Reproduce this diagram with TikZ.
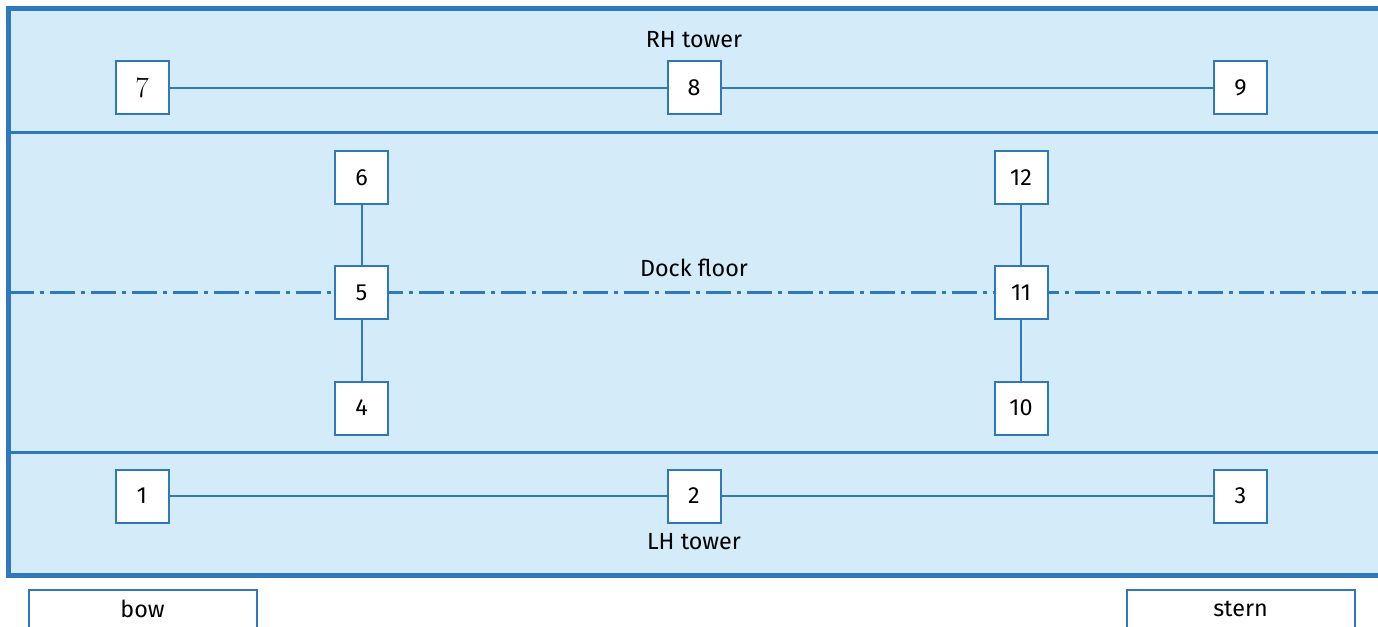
\documentclass[tikz,border=0pt]{standalone}
\usepackage{fontspec}
\setmainfont{Fira Sans}
\newfontfamily\serifdigits{Latin Modern Roman}
\definecolor{rimblue}{RGB}{47,120,190}
\definecolor{dockfill}{RGB}{212,235,250}
\begin{document}
\begin{tikzpicture}[x=0.75pt,y=-0.75pt,
  station/.style={draw=rimblue, line width=1.5pt, fill=white, minimum size=39.75pt,
    inner sep=0pt, font=\fontsize{17.5}{20}\selectfont},
  link/.style={draw=rimblue, line width=1.5pt},
  bandtext/.style={inner sep=0pt, font=\fontsize{17.5}{20}\selectfont},
  centreline/.style={draw=rimblue, line width=2.25pt,
    dash pattern=on 18.75pt off 4.5pt on 3pt off 4.5pt},
  divider/.style={draw=rimblue, line width=2.25pt},
  endbox/.style={draw=rimblue, line width=1.5pt, fill=white}]

  \useasboundingbox (0,0) rectangle (1378,627);
  \clip (0,0) rectangle (1378,627);

  % dock body with tower bands
  \filldraw[fill=dockfill, draw=rimblue, line width=3.75pt] (8.5,8.5) rectangle (1380,575.5);
  \draw[divider] (8.5,132.5) -- (1380,132.5);
  \draw[divider] (8.5,452.5) -- (1380,452.5);

  % dock centreline
  \coordinate (cl) at (8.5,293);
  \coordinate (cr) at (1380,293);
  \draw[centreline] (cl) -- (cr);

  % band captions
  \node[bandtext] (rh) at (694,40) {RH tower};
  \node[bandtext] (dock) at (694,268) {Dock floor};
  \node[bandtext] (lh) at (694,542) {LH tower};

  % RH tower stations
  \node[station] (n7) at (142,88) {\serifdigits\fontsize{22}{24}\selectfont 7};
  \node[station] (n8) at (694,88) {8};
  \node[station] (n9) at (1240.5,88) {9};
  % dock floor stations
  \node[station] (n6) at (361.5,178) {6};
  \node[station] (n5) at (361.5,293) {5};
  \node[station] (n4) at (361.5,408) {4};
  \node[station] (n12) at (1021,178) {12};
  \node[station] (n11) at (1021,293) {11};
  \node[station] (n10) at (1021,408) {10};
  % LH tower stations
  \node[station] (n1) at (142,496) {1};
  \node[station] (n2) at (694,496) {2};
  \node[station] (n3) at (1240.5,496) {3};

  \draw[link] (n7) -- (n8) -- (n9);
  \draw[link] (n1) -- (n2) -- (n3);
  \draw[link] (n6) -- (n5) -- (n4);
  \draw[link] (n12) -- (n11) -- (n10);

  % bow and stern markers
  \draw[endbox] (28.5,589.5) rectangle (256.5,660);
  \draw[endbox] (1126.5,589.5) rectangle (1354.5,660);
  \node[bandtext] (bow) at (142.5,609) {bow};
  \node[bandtext] (stern) at (1240.5,609) {stern};
\end{tikzpicture}
\end{document}
